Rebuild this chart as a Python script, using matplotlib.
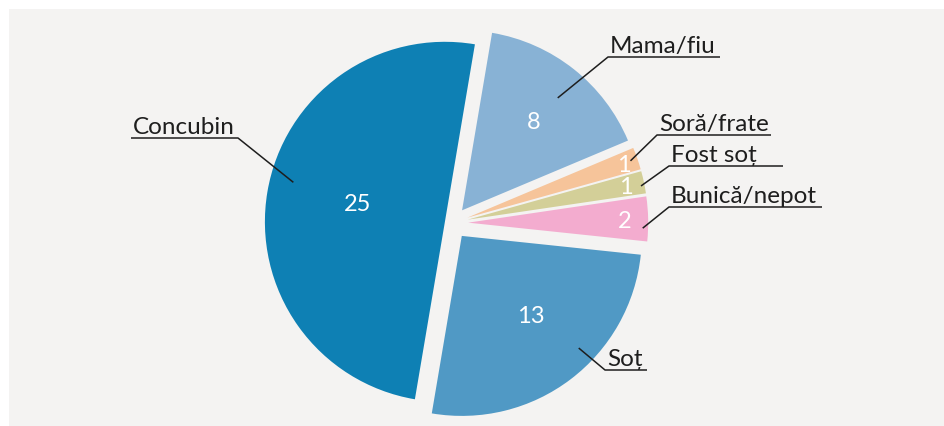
import numpy as np
import matplotlib
matplotlib.use("Agg")
import matplotlib.pyplot as plt
from matplotlib.patches import Rectangle

# ---- data ----
categories = ["Mama/fiu", "Soră/frate", "Fost soț", "Bunică/nepot", "Soț", "Concubin"]
values = [8, 1, 1, 2, 13, 25]

# ---- style ----
colors = ["#88b2d5", "#f6c49a", "#d3cf98", "#f3accf", "#5099c5", "#0e80b4"]
explode = [0.09, 0.09, 0.09, 0.09, 0.09, 0.04]
value_dist = [0.64, 0.92, 0.90, 0.87, 0.58, 0.50]
value_dtheta = [0, 0, 0, 0, 4, -3]
tip_frac = [0.82, 0.96, 0.98, 0.97, 0.90, 0.87]
tip_dtheta = [-2, 0, -1, -3, 9, -5]
# label underline layout in figure pixels: (x_left, x_right, y, elbow side)
label_layout = [
    (608, 720, 57, "left"),
    (657, 771, 135, "left"),
    (669, 783, 166, "left"),
    (669, 822, 207, "left"),
    (605, 647, 370, "left"),
    (131, 238, 138, "right"),
]

FONT = ["Lato", "DejaVu Sans"]
W, H = 945, 426
CX, CY, R = 452, 223, 180  # pie centre / radius in pixels

fig = plt.figure(figsize=(W / 100, H / 100), dpi=100, facecolor="white")
fig.patches.append(Rectangle((9 / W, 0), 1 - 9 / W + 0.01, 417 / H,
                             transform=fig.transFigure, facecolor="#f4f3f2",
                             edgecolor="none", zorder=-5))
ax = fig.add_axes([0, 0, 1, 1])
ax.set_facecolor("none")
ax.set_zorder(1)

wedges, _ = ax.pie(values, colors=colors, explode=explode, startangle=80.4,
                   counterclock=False, radius=1.0,
                   wedgeprops=dict(linewidth=0))

ax.set_xlim(-CX / R, (W - CX) / R)
ax.set_ylim((CY - H) / R, CY / R)
ax.set_aspect("equal")
ax.axis("off")


def px(x, y):
    return (x - CX) / R, (CY - y) / R


for i, w in enumerate(wedges):
    mid = np.deg2rad((w.theta1 + w.theta2) / 2)
    cx, cy = w.center
    # value label
    va_ang = mid + np.deg2rad(value_dtheta[i])
    ax.text(cx + value_dist[i] * np.cos(va_ang),
            cy + value_dist[i] * np.sin(va_ang),
            str(values[i]), color="white", fontsize=17, family=FONT,
            ha="center", va="center_baseline")
    # leader line
    ang = mid + np.deg2rad(tip_dtheta[i])
    tx, ty = cx + tip_frac[i] * np.cos(ang), cy + tip_frac[i] * np.sin(ang)
    x0, x1, yl, side = label_layout[i]
    ax0, ayl = px(x0, yl)
    ax1, _ = px(x1, yl)
    if side == "left":
        ax.plot([tx, ax0, ax1], [ty, ayl, ayl], color="#1e1e1e", lw=1.1,
                solid_capstyle="butt")
    else:
        ax.plot([tx, ax1, ax0], [ty, ayl, ayl], color="#1e1e1e", lw=1.1,
                solid_capstyle="butt")
    ttx, tty = px(x0 + 2, yl - 4)
    ax.text(ttx, tty, categories[i], color="#1e1e1e", fontsize=17.5,
            family=FONT, ha="left", va="baseline")

fig.savefig("out.png", dpi=100, facecolor="white")
